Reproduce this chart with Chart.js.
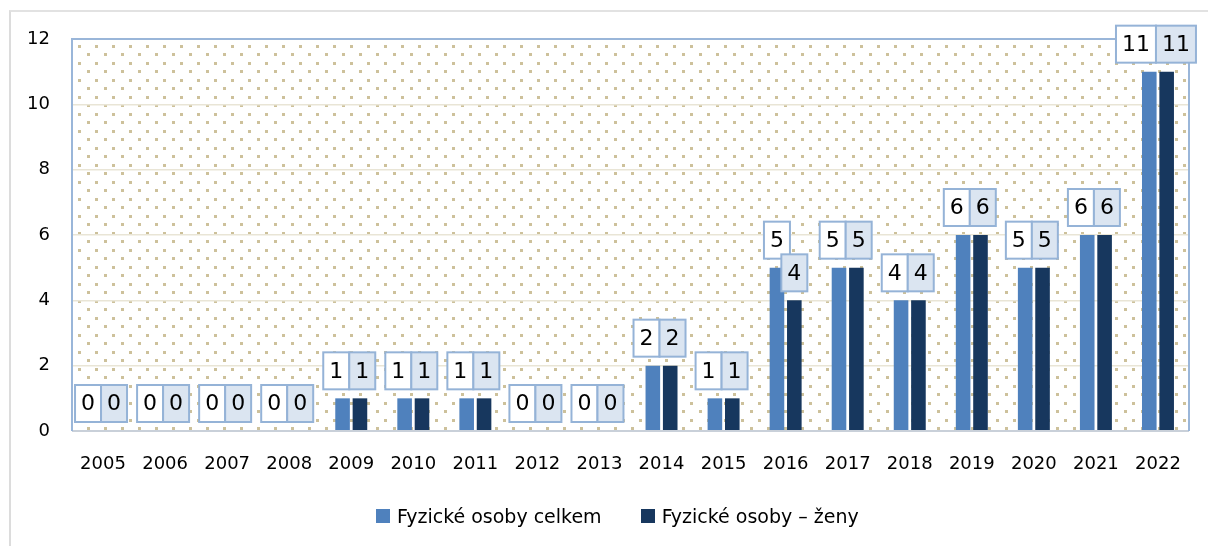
<!DOCTYPE html>
<html>
<head>
<meta charset="utf-8">
<title>Fyzické osoby</title>
<script src="https://cdn.jsdelivr.net/npm/chart.js@4.4.1/dist/chart.umd.min.js"></script>
<style>
  html, body { margin: 0; padding: 0; background: #fff; }
  #wrap { position: relative; width: 1208px; height: 546px; overflow: hidden; }
  #frame { position: absolute; left: 9px; top: 10px; width: 1400px; height: 800px;
           border-left: 2px solid #dcdcdc; border-top: 2px solid #e2e2e2; }
  #chart { position: absolute; left: 0; top: 0; }
  #legend { position: absolute; left: 376px; top: 504px; height: 24px; display: flex; align-items: center;
            font-family: "DejaVu Sans", sans-serif; font-size: 19px; color: #000; }
  #legend .item { display: flex; align-items: center; margin-right: 39px; }
  #legend .swatch { width: 14px; height: 14px; margin-right: 7px; }
</style>
</head>
<body>
<div id="wrap">
  <div id="frame"></div>
  <canvas id="chart" width="1208" height="546"></canvas>
  <div id="legend"></div>
</div>
<script>
// =================== DATA ===================
const years = ["2005", "2006", "2007", "2008", "2009", "2010", "2011", "2012", "2013",
               "2014", "2015", "2016", "2017", "2018", "2019", "2020", "2021", "2022"];
const celkem = [0, 0, 0, 0, 1, 1, 1, 0, 0, 2, 1, 5, 5, 4, 6, 5, 6, 11];
const zeny   = [0, 0, 0, 0, 1, 1, 1, 0, 0, 2, 1, 4, 5, 4, 6, 5, 6, 11];
const yTicks = [0, 2, 4, 6, 8, 10, 12];
const seriesNames = ["Fyzické osoby celkem", "Fyzické osoby – ženy"];

// =================== STYLE ===================
const FONT = "DejaVu Sans";
const COLORS = ["#4f81bd", "#17375e"];
const BOX_FILL = ["#ffffff", "#dbe5f1"];
const BOX_LINE = "#95b3d7";

// dotted fill of the plot area + frame + value boxes
const plotDecor = {
  id: "plotDecor",
  beforeDraw(chart) {
    const { ctx, chartArea: a } = chart;
    const tile = document.createElement("canvas");
    tile.width = 17; tile.height = 17;
    const t = tile.getContext("2d");
    t.fillStyle = "#cdc19b";
    t.fillRect(6, 6, 3, 3);
    t.fillRect(15, 14, 3, 3);
    t.fillRect(-2, 14, 3, 3);
    ctx.save();
    ctx.translate(a.left, a.top);
    ctx.fillStyle = ctx.createPattern(tile, "repeat");
    ctx.fillRect(0, 0, a.right - a.left, a.bottom - a.top);
    ctx.restore();
  },
  afterDatasetsDraw(chart) {
    const { ctx, chartArea: a } = chart;
    ctx.save();
    // axis line
    ctx.strokeStyle = "#c9d0d9";
    ctx.lineWidth = 2;
    ctx.beginPath();
    ctx.moveTo(a.left, a.bottom);
    ctx.lineTo(a.right, a.bottom);
    ctx.stroke();
    // plot border
    ctx.strokeStyle = "#9ab6d9";
    ctx.beginPath();
    ctx.moveTo(a.left, a.bottom);
    ctx.lineTo(a.left, a.top);
    ctx.lineTo(a.right, a.top);
    ctx.lineTo(a.right, a.bottom);
    ctx.stroke();

    // value boxes
    ctx.font = "22px '" + FONT + "'";
    ctx.textAlign = "center";
    ctx.textBaseline = "middle";
    const m0 = chart.getDatasetMeta(0).data;
    const m1 = chart.getDatasetMeta(1).data;
    const H = 37, GAP = 9;
    years.forEach((y, i) => {
      const vals = [celkem[i], zeny[i]];
      const bars = [m0[i], m1[i]];
      const txt = vals.map(String);
      const w = txt.map(s => ctx.measureText(s).width + 12);
      let xs;
      if (vals[0] === vals[1]) {
        // same height: boxes pushed side by side
        const mid = (bars[0].x + bars[1].x) / 2 - 2;
        const start = mid - (w[0] + w[1]) / 2;
        xs = [start, start + w[0]];
      } else {
        xs = [bars[0].x - w[0] / 2, bars[1].x - w[1] / 2];
      }
      for (let k = 0; k < 2; k++) {
        const bottom = bars[k].y - GAP;
        const top = bottom - H;
        ctx.fillStyle = BOX_FILL[k];
        ctx.fillRect(xs[k], top, w[k], H);
        ctx.strokeStyle = BOX_LINE;
        ctx.lineWidth = 2;
        ctx.strokeRect(xs[k], top, w[k], H);
        ctx.fillStyle = "#000";
        ctx.fillText(txt[k], xs[k] + w[k] / 2, top + H / 2 + 1);
      }
    });
    ctx.restore();
  }
};

// =================== CHART ===================
const chart = new Chart(document.getElementById("chart"), {
  type: "bar",
  data: {
    labels: years,
    datasets: [
      { label: seriesNames[0], data: celkem, backgroundColor: COLORS[0] },
      { label: seriesNames[1], data: zeny, backgroundColor: COLORS[1] }
    ]
  },
  options: {
    responsive: false,
    animation: false,
    devicePixelRatio: 1,
    categoryPercentage: 0.56,
    barPercentage: 0.84,
    layout: { padding: { top: 39, right: 19, left: 0, bottom: 0 } },
    plugins: { legend: { display: false }, tooltip: { enabled: false } },
    scales: {
      x: {
        grid: { display: false, drawTicks: false },
        border: { display: false },
        ticks: { color: "#000", padding: 23, maxRotation: 0, font: { family: FONT, size: 18 } },
        afterFit: s => { s.height = 115; }
      },
      y: {
        min: 0, max: 12,
        afterBuildTicks: s => { s.ticks = yTicks.map(v => ({ value: v })); },
        grid: { color: "#e9e5d6", lineWidth: 1.5, drawTicks: false },
        border: { display: false },
        ticks: { color: "#000", padding: 22, font: { family: FONT, size: 18 } },
        afterFit: s => { s.width = 72; }
      }
    }
  },
  plugins: [plotDecor]
});

// =================== LEGEND ===================
const legend = document.getElementById("legend");
chart.data.datasets.forEach(ds => {
  const item = document.createElement("div");
  item.className = "item";
  item.innerHTML = `<span class="swatch" style="background:${ds.backgroundColor}"></span><span>${ds.label}</span>`;
  legend.appendChild(item);
});
</script>
</body>
</html>
